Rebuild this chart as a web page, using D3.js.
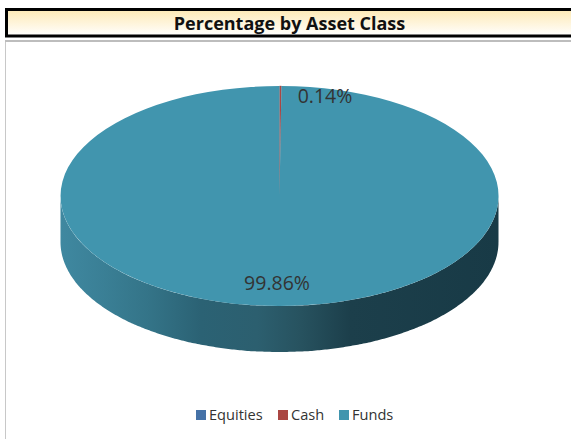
<!DOCTYPE html>
<html>
<head>
<meta charset="utf-8">
<script src="https://cdn.jsdelivr.net/npm/d3@7"></script>
<style>
  html, body { margin: 0; padding: 0; background: white; }
  svg { display: block; }
  text { font-family: "Open Sans", sans-serif; }
</style>
</head>
<body>
<div id="chart"></div>
<script>
const categories = ["Equities", "Cash", "Funds"];
const shares = [0, 0.14, 99.86];
const labels = ["0.14%", "99.86%"];
const colors = ["#4572a7", "#aa4643", "#4195ae"];

const width = 571,
      height = 439,
      rx = 219,
      ry = 110,
      depth = 46,
      cx = 279.5,
      cy = 196;

const svg = d3.select("#chart")
  .append("svg")
  .attr("width", width)
  .attr("height", height)
  .attr("viewBox", [0, 0, width, height]);

const defs = svg.append("defs");

const titleGrad = defs.append("linearGradient")
  .attr("id", "titleGrad")
  .attr("x1", 0).attr("y1", 0).attr("x2", 0).attr("y2", 1);
titleGrad.append("stop").attr("offset", "0%").attr("stop-color", "#fde9b4");
titleGrad.append("stop").attr("offset", "100%").attr("stop-color", "#ffffff");

// side of the pie goes light to dark, left to right
const sideGrad = defs.append("linearGradient")
  .attr("id", "sideGrad")
  .attr("gradientUnits", "userSpaceOnUse")
  .attr("x1", cx - rx).attr("y1", 0).attr("x2", cx + rx).attr("y2", 0);
[[0, "#3f88a0"], [0.1, "#3a7f95"], [0.2, "#347488"], [0.32, "#2b6274"],
 [0.45, "#2c5f6f"], [0.55, "#27525f"], [0.66, "#1c3f4b"], [1, "#183a46"]]
  .forEach(s => sideGrad.append("stop").attr("offset", s[0]).attr("stop-color", s[1]));

// title band
svg.append("rect")
  .attr("x", 6.5).attr("y", 9.5)
  .attr("width", width).attr("height", 26.5)
  .attr("fill", "url(#titleGrad)")
  .attr("stroke", "#000")
  .attr("stroke-width", 3);

svg.append("text")
  .attr("x", 289.5)
  .attr("y", 30)
  .attr("text-anchor", "middle")
  .attr("font-size", 18)
  .attr("font-weight", 700)
  .attr("fill", "#111")
  .text("Percentage by Asset Class");

// chart frame
svg.append("rect")
  .attr("x", 5.5).attr("y", 41)
  .attr("width", width).attr("height", height)
  .attr("fill", "white")
  .attr("stroke", "#c8c8c8");

svg.append("line")
  .attr("x1", 5).attr("x2", width)
  .attr("y1", 41).attr("y2", 41)
  .attr("stroke", "#bdbdbd")
  .attr("stroke-width", 2);

const arcs = d3.pie().sort(null).value(d => d)(shares);

// front wall of the pie: lower half of the ellipse, pushed down by depth
const px = d3.scaleLinear().domain([-1, 1]).range([cx - rx, cx + rx]);
const py = d3.scaleLinear().domain([-1, 1]).range([cy - ry, cy + ry]);
const front = d3.range(Math.PI / 2, Math.PI * 3 / 2 + 0.001, Math.PI / 180);

const wall = d3.area()
  .x(a => px(Math.sin(a)))
  .y0(a => py(-Math.cos(a)))
  .y1(a => py(-Math.cos(a)) + depth)
  .curve(d3.curveCatmullRom);

svg.append("path")
  .attr("d", wall(front))
  .attr("fill", "url(#sideGrad)");

// top surface
const arc = d3.arc().innerRadius(0).outerRadius(rx);

svg.append("g")
  .attr("transform", `translate(${cx},${cy}) scale(1,${ry / rx})`)
  .selectAll("path")
  .data(arcs)
  .join("path")
  .attr("fill", (d, i) => colors[i])
  .attr("stroke", (d, i) => i == 1 ? colors[i] : "none")
  .attr("stroke-opacity", 0.5)
  .attr("d", arc);

// value labels
svg.append("g")
  .attr("font-size", 19.5)
  .attr("fill", "#333")
  .attr("text-anchor", "middle")
  .selectAll("text")
  .data(labels)
  .join("text")
  .attr("x", (d, i) => [325, 277][i])
  .attr("y", (d, i) => [103, 290][i])
  .text(d => d);

// legend
const legendX = [196, 278, 339];

const legend = svg.append("g")
  .selectAll("g")
  .data(categories)
  .join("g")
  .attr("transform", (d, i) => `translate(${legendX[i]},410)`);

legend.append("rect")
  .attr("width", 10)
  .attr("height", 10)
  .attr("fill", (d, i) => colors[i]);

legend.append("text")
  .attr("x", 13)
  .attr("y", 10)
  .attr("font-size", 14.6)
  .attr("fill", "#333")
  .text(d => d);
</script>
</body>
</html>
